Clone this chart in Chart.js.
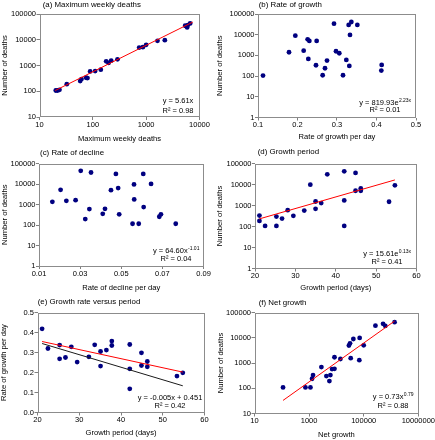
<!DOCTYPE html>
<html>
<head>
<meta charset="utf-8">
<script src="https://cdn.jsdelivr.net/npm/chart.js@4.4.1/dist/chart.umd.min.js"></script>
<style>
html, body { margin: 0; padding: 0; background: #fff; }
#wrap { position: relative; width: 435px; height: 440px; overflow: hidden; }
canvas { position: absolute; }
</style>
</head>
<body>
<div id="wrap">
  <canvas id="pa"></canvas>
  <canvas id="pb"></canvas>
  <canvas id="pc"></canvas>
  <canvas id="pd"></canvas>
  <canvas id="pe"></canvas>
  <canvas id="pf"></canvas>
</div>
<script>
// (a) maximum weekly deaths vs number of deaths
const aMaxWeekly = [20.2, 21.8, 23.7, 32.5, 57.9, 61.3, 75, 79.4, 89, 110.6, 141, 178, 197, 221, 290, 740, 866, 1000, 1631, 2239, 5383, 5870, 6040, 6680];
const aDeaths = [107, 107, 114, 189, 248, 297, 334, 325, 591, 610, 687, 1456, 1254, 1545, 1742, 4977, 5130, 6325, 9080, 9640, 35000, 30100, 37200, 43100];
const aFitX = [19.7, 7500];
const aFitY = [107, 48600];
const aTicksX = ['10', '100', '1000', '10000'];
const aTicksY = ['10', '100', '1000', '10000', '100000'];

// (b) rate of growth
const bGrowth = [0.1127, 0.1785, 0.1945, 0.2156, 0.2257, 0.23, 0.2485, 0.2274, 0.2468, 0.2747, 0.2696, 0.2637, 0.2924, 0.2975, 0.3058, 0.3152, 0.3236, 0.3312, 0.3295, 0.3329, 0.3363, 0.3515, 0.4131, 0.4122];
const bDeaths = [106, 1420, 9000, 1700, 6000, 5000, 5000, 675, 335, 560, 240, 110, 34000, 1590, 1270, 110, 605, 310, 29500, 9700, 41000, 29500, 347, 185];
const bTicksX = ['0.1', '0.2', '0.3', '0.4', '0.5'];
const bTicksY = ['1', '10', '100', '1000', '10000', '100000'];

// (c) rate of decline
const cDecline = [0.0165, 0.0205, 0.0233, 0.0278, 0.0303, 0.0353, 0.0345, 0.0325, 0.041, 0.0421, 0.045, 0.0474, 0.0485, 0.049, 0.0555, 0.0585, 0.0562, 0.0563, 0.0609, 0.0607, 0.0645, 0.0685, 0.0693, 0.0765];
const cDeaths = [1350, 5190, 1510, 1630, 43700, 36400, 596, 194, 352, 617, 5000, 31000, 6300, 330, 115, 115, 9500, 1770, 745, 31000, 10100, 252, 330, 115];
const cTicksX = ['0.01', '0.03', '0.05', '0.07', '0.09'];
const cTicksY = ['1', '10', '100', '1000', '10000', '100000'];

// (d) growth period
const dPeriod = [21.1, 21.1, 22.5, 25.3, 25.3, 26.7, 28.1, 29.5, 32.2, 33.7, 35, 35, 36.4, 37.9, 42.1, 42.1, 42.1, 44.9, 44.9, 46.2, 46.2, 53.2, 54.65];
const dDeaths = [331, 185, 106, 106, 296, 238, 600, 321, 574, 9800, 1550, 693, 1300, 30500, 42500, 1740, 106, 35700, 5030, 6500, 5030, 1510, 9100];
const dFitX = [21.07, 54.65];
const dFitY = [230, 16500];
const dTicksX = ['20', '30', '40', '50', '60'];
const dTicksY = ['1', '10', '100', '1000', '10000', '100000'];

// (e) growth rate versus period
const ePeriod = [21.1, 22.5, 25.3, 25.3, 26.7, 28.1, 29.5, 32.3, 33.7, 35.1, 35.1, 36.5, 37.8, 37.8, 42.1, 42.1, 42.1, 44.9, 44.9, 46.3, 46.3, 53.4, 54.8];
const eGrowth = [0.4185, 0.32, 0.337, 0.2685, 0.275, 0.3285, 0.252, 0.2785, 0.3385, 0.305, 0.232, 0.312, 0.357, 0.335, 0.34, 0.2185, 0.1185, 0.2985, 0.235, 0.255, 0.2285, 0.182, 0.1985];
const eRedX = [21.1, 54.8];
const eRedY = [0.355, 0.202];
const eBlackX = [21.1, 54.8];
const eBlackY = [0.345, 0.1335];
const eTicksX = ['20', '30', '40', '50', '60'];
const eTicksY = ['0.0', '0.1', '0.2', '0.3', '0.4', '0.5'];

// (f) net growth
const fNet = [111, 734, 1120, 1283, 1393, 2820, 4300, 5540, 6030, 6920, 8500, 8500, 14000, 33400, 69000, 28700, 31500, 41800, 71000, 100000, 269000, 512000, 617000, 1350000];
const fDeaths = [108, 108, 108, 238, 333, 692, 304, 192, 333, 575, 590, 1690, 1440, 1550, 1290, 4900, 6030, 8930, 9800, 5030, 30200, 35500, 29500, 41500];
const fFitX = [111, 1350000];
const fFitY = [33, 45700];
const fTicksX = ['10', '1000', '100000', '10000000'];
const fTicksY = ['10', '100', '1000', '10000', '100000'];

const FAM = '"Liberation Sans", Arial, Helvetica, sans-serif';
const DOT = '#000080';

function pts(xs, ys) { return xs.map((x, i) => ({ x: x, y: ys[i] })); }

function axis(type, labels, min, max, title, size, titlePad, horizontal) {
  return {
    type: type, min: min, max: max,
    afterBuildTicks: s => { s.ticks = labels.map(t => ({ value: Number(t) })); },
    afterFit: s => { if (horizontal) s.height = size; else s.width = size; },
    ticks: {
      autoSkip: false, maxRotation: 0, minRotation: 0,
      padding: horizontal ? 0 : 0.5,
      color: '#000', font: { family: FAM, size: 7.5 },
      callback: (v, i) => labels[i]
    },
    grid: { display: true, drawOnChartArea: false, drawTicks: true, tickLength: 3, color: '#808080' },
    border: { display: false },
    title: {
      display: true, text: title, color: '#000',
      font: { family: FAM, size: 7.6, lineHeight: 1 },
      padding: horizontal ? { top: 0, bottom: titlePad } : { top: titlePad, bottom: 0 }
    }
  };
}

function makeChart(id, g, datasets, xs, ys, txt) {
  const cv = document.getElementById(id);
  cv.width = g.w; cv.height = g.h;
  cv.style.left = g.x + 'px'; cv.style.top = g.y + 'px';
  const bottom = g.y + g.h;
  const xH = bottom - g.pb;
  const yW = g.pl - g.x;

  const frame = {
    id: 'frame',
    beforeDatasetsDraw(chart) {
      const a = chart.chartArea, ctx = chart.ctx;
      ctx.save();
      ctx.strokeStyle = '#8c8c8c';
      ctx.lineWidth = 1;
      ctx.strokeRect(Math.round(a.left) + 0.5, Math.round(a.top) + 0.5,
        Math.round(a.right - a.left) - 1, Math.round(a.bottom - a.top) - 1);
      ctx.restore();
    }
  };
  const label = {
    id: 'panelText',
    afterDraw(chart) {
      const ctx = chart.ctx;
      ctx.save();
      ctx.fillStyle = '#000';
      ctx.textBaseline = 'middle';
      ctx.textAlign = 'left';
      ctx.font = '7.9px ' + FAM;
      ctx.fillText(txt.title, txt.tx - g.x, txt.ty - g.y);
      txt.lines.forEach((ln, i) => {
        ctx.font = '7.5px ' + FAM;
        const w1 = ctx.measureText(ln[0]).width;
        ctx.font = '5px ' + FAM;
        const w2 = ln[1] ? ctx.measureText(ln[1]).width : 0;
        const x = txt.cx - g.x - (w1 + w2) / 2;
        const y = txt.ly[i] - g.y;
        ctx.font = '7.5px ' + FAM;
        ctx.fillText(ln[0], x, y);
        if (ln[1]) {
          ctx.font = '5px ' + FAM;
          ctx.fillText(ln[1], x + w1 + 0.3, y - 2.3);
        }
      });
      ctx.restore();
    }
  };

  return new Chart(cv, {
    type: 'scatter',
    data: { datasets: datasets },
    options: {
      responsive: false,
      animation: false,
      devicePixelRatio: 1,
      layout: { padding: { left: 0, top: g.pt - g.y, right: g.x + g.w - g.pr, bottom: 0 } },
      plugins: { legend: { display: false }, tooltip: { enabled: false } },
      scales: {
        x: axis(xs.type, xs.labels, xs.min, xs.max, xs.title, xH, bottom - g.xt - 3.8, true),
        y: axis(ys.type, ys.labels, ys.min, ys.max, ys.title, yW, g.yt - g.x - 3.8, false)
      }
    },
    plugins: [frame, label]
  });
}

function dots(data) {
  return { data: data, showLine: false, pointRadius: 2.4, pointBackgroundColor: DOT, pointBorderColor: DOT, pointBorderWidth: 0 };
}
function fit(data, color) {
  return { data: data, showLine: true, pointRadius: 0, borderColor: color, borderWidth: 1, fill: false };
}

makeChart('pa',
  { x: 0, y: 0, w: 217, h: 150, pl: 39.5, pr: 199.5, pt: 14, pb: 117, xt: 139.3, yt: 5 },
  [fit(pts(aFitX, aFitY), '#ff0000'), dots(pts(aMaxWeekly, aDeaths))],
  { type: 'logarithmic', labels: aTicksX, min: 10, max: 10000, title: 'Maximum weekly deaths' },
  { type: 'logarithmic', labels: aTicksY, min: 10, max: 100000, title: 'Number of deaths' },
  { title: '(a) Maximum weekly deaths', tx: 42.7, ty: 4.5, cx: 178, ly: [100.7, 111], lines: [['y = 5.61x'], ['R² = 0.98']] });

makeChart('pb',
  { x: 212, y: 0, w: 223, h: 150, pl: 258, pr: 416, pt: 14, pb: 117.5, xt: 137.3, yt: 220.3 },
  [dots(pts(bGrowth, bDeaths))],
  { type: 'linear', labels: bTicksX, min: 0.1, max: 0.5, title: 'Rate of growth per day' },
  { type: 'logarithmic', labels: bTicksY, min: 1, max: 100000, title: 'Number of deaths' },
  { title: '(b) Rate of growth', tx: 258.7, ty: 5, cx: 385, ly: [102.7, 110.3], lines: [['y = 819.93e', '2.23x'], ['R² = 0.01']] });

makeChart('pc',
  { x: 0, y: 145, w: 217, h: 150, pl: 39, pr: 203.5, pt: 163.5, pb: 266, xt: 288.3, yt: 5 },
  [dots(pts(cDecline, cDeaths))],
  { type: 'linear', labels: cTicksX, min: 0.01, max: 0.09, title: 'Rate of decline per day' },
  { type: 'logarithmic', labels: cTicksY, min: 1, max: 100000, title: 'Number of deaths' },
  { title: '(c) Rate of decline', tx: 40, ty: 153.3, cx: 176, ly: [251.3, 258.7], lines: [['y = 64.60x', '-1.01'], ['R² = 0.04']] });

makeChart('pd',
  { x: 212, y: 145, w: 223, h: 150, pl: 255, pr: 416.5, pt: 163.5, pb: 268.5, xt: 288.3, yt: 220.3 },
  [fit(pts(dFitX, dFitY), '#ff0000'), dots(pts(dPeriod, dDeaths))],
  { type: 'linear', labels: dTicksX, min: 20, max: 60, title: 'Growth period (days)' },
  { type: 'logarithmic', labels: dTicksY, min: 1, max: 100000, title: 'Number of deaths' },
  { title: '(d) Growth period', tx: 257.7, ty: 152.3, cx: 387, ly: [253.7, 261.7], lines: [['y = 15.61e', '0.13x'], ['R² = 0.41']] });

makeChart('pe',
  { x: 0, y: 290, w: 217, h: 150, pl: 37.5, pr: 204.5, pt: 312.5, pb: 412.5, xt: 433.3, yt: 4 },
  [fit(pts(eRedX, eRedY), '#ff0000'), fit(pts(eBlackX, eBlackY), '#1a1a1a'), dots(pts(ePeriod, eGrowth))],
  { type: 'linear', labels: eTicksX, min: 20, max: 60, title: 'Growth period (days)' },
  { type: 'linear', labels: eTicksY, min: 0, max: 0.5, title: 'Rate of growth per day' },
  { title: '(e) Growth rate versus period', tx: 37.7, ty: 302.3, cx: 170, ly: [398.3, 406.3], lines: [['y = -0.005x + 0.451'], ['R² = 0.42']] });

makeChart('pf',
  { x: 212, y: 290, w: 223, h: 150, pl: 254.5, pr: 418.5, pt: 312.5, pb: 413.5, xt: 435, yt: 221 },
  [fit(pts(fFitX, fFitY), '#ff0000'), dots(pts(fNet, fDeaths))],
  { type: 'logarithmic', labels: fTicksX, min: 10, max: 10000000, title: 'Net growth' },
  { type: 'logarithmic', labels: fTicksY, min: 10, max: 100000, title: 'Number of deaths' },
  { title: '(f) Net growth', tx: 258.7, ty: 303.3, cx: 393, ly: [397.3, 406.3], lines: [['y = 0.73x', '0.79'], ['R² = 0.88']] });
</script>
</body>
</html>
